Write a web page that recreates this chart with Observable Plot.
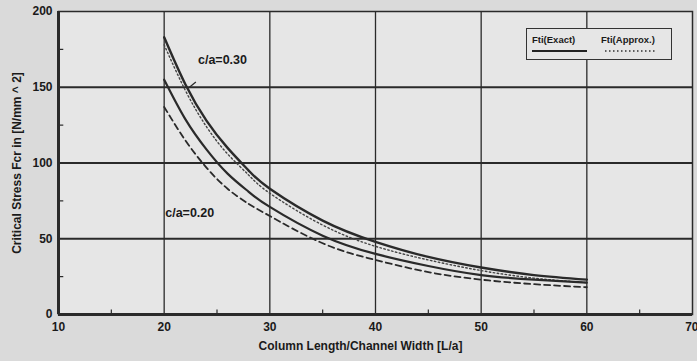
<!DOCTYPE html>
<html>
<head>
<meta charset="utf-8">
<script src="https://cdn.jsdelivr.net/npm/d3@7"></script>
<script src="https://cdn.jsdelivr.net/npm/@observablehq/plot@0.6"></script>
<style>
  html, body { margin: 0; padding: 0; background: #dadada; }
  #wrap { position: relative; width: 697px; height: 361px; overflow: hidden; }
  #legend {
    position: absolute; left: 526px; top: 28px; width: 144px; height: 30px;
    border: 1.5px solid #333; background: #e6e6e6;
    font-family: "Liberation Sans", Arial, sans-serif; font-weight: bold; font-size: 9.5px; color: #1a1a1a;
  }
  #legend .item { position: absolute; top: 5px; }
  #legend svg { position: absolute; left: 0; top: 0; }
</style>
</head>
<body>
<div id="wrap">
  <div id="chart"></div>
  <div id="legend">
    <span class="item" style="left:5px">Fti(Exact)</span>
    <span class="item" style="left:74px">Fti(Approx.)</span>
    <svg width="144" height="30">
      <line x1="5" x2="60" y1="22" y2="22" stroke="#222" stroke-width="2"/>
      <line x1="78" x2="130" y1="22" y2="22" stroke="#333" stroke-width="1.3" stroke-dasharray="1.5,2.5"/>
    </svg>
  </div>
</div>
<script>
// ---- data ----
const ratio = [20, 22, 24, 26, 28, 30, 35, 40, 45, 50, 55, 60];            // L/a
const exact030  = [183, 152, 128, 110, 95, 83, 62, 48, 38, 31, 26, 23];
const approx030 = [178, 148, 124, 106, 92, 80, 59, 45, 36, 29, 24, 21];
const exact020  = [155, 129, 109, 93, 81, 71, 52, 40, 32, 26, 23, 21];
const approx020 = [137, 115, 97, 83, 73, 65, 47, 36, 28, 23, 20, 18];

const xTicks = [10, 20, 30, 40, 50, 60];
const xLastTick = [70];
const yTicks = [0, 50, 100, 150, 200];
const xGrid = [20, 30, 40, 50, 60];
const yGrid = [50, 100, 150];
const xMinor = [15, 25, 35, 45, 55, 65];
const yMinor = [25, 75, 125, 175];
const xLabel = "Column Length/Channel Width [L/a]";
const yLabel = "Critical Stress Fcr in [N/mm ^ 2]";

const annotLabels = ["c/a=0.30", "c/a=0.20"];
const annotX = [23.2, 20.1];
const annotY = [168, 67];

const series = [
  {key: "exact030", values: exact030},
  {key: "approx030", values: approx030},
  {key: "exact020", values: exact020},
  {key: "approx020", values: approx020}
];
const rows = k => ratio.map((x, i) => ({x, y: series.find(s => s.key === k).values[i]}));
const annots = annotLabels.map((t, i) => ({t, x: annotX[i], y: annotY[i]}));

const ink = "#2a2a2a";
const chart = Plot.plot({
  width: 697,
  height: 361,
  marginLeft: 58,
  marginRight: 5,
  marginTop: 11,
  marginBottom: 47,
  style: {background: "transparent", fontFamily: "Liberation Sans, Arial, sans-serif", fontWeight: "bold", color: "#1a1a1a"},
  x: {domain: [10, 70]},
  y: {domain: [0, 200]},
  marks: [
    Plot.frame({fill: "#e6e6e6", stroke: null}),
    Plot.ruleX(xGrid, {stroke: ink, strokeWidth: 1.3}),
    Plot.ruleY(yGrid, {stroke: ink, strokeWidth: 2}),
    Plot.ruleX(xMinor, {y1: 0, y2: 3, stroke: ink, strokeWidth: 1.2}),
    Plot.ruleY(yMinor, {x1: 10, x2: 10.5, stroke: ink, strokeWidth: 1.2}),
    Plot.frame({stroke: ink, strokeWidth: 1.5}),
    Plot.ruleY([0], {stroke: ink, strokeWidth: 3}),
    Plot.ruleX([10], {stroke: ink, strokeWidth: 3}),
    Plot.line(rows("approx030"), {x: "x", y: "y", curve: "natural", stroke: "#444", strokeWidth: 1.4, strokeDasharray: "1.5,2.5"}),
    Plot.line(rows("exact030"), {x: "x", y: "y", curve: "natural", stroke: ink, strokeWidth: 2.4}),
    Plot.line(rows("exact020"), {x: "x", y: "y", curve: "natural", stroke: ink, strokeWidth: 2.2}),
    Plot.line(rows("approx020"), {x: "x", y: "y", curve: "natural", stroke: ink, strokeWidth: 1.8, strokeDasharray: "6,4"}),
    Plot.link([{x1: 23.0, y1: 153.5, x2: 22.3, y2: 149.5}], {x1: "x1", y1: "y1", x2: "x2", y2: "y2", stroke: ink, strokeWidth: 1.2}),
    Plot.text(annots, {x: "x", y: "y", text: "t", textAnchor: "start", fontSize: 12.5, fontWeight: "bold", fill: "#1a1a1a"}),
    Plot.axisX({ticks: xTicks, tickSize: 0, tickPadding: 8, fontSize: 12, fontWeight: "bold", label: null}),
    Plot.axisX({ticks: xLastTick, tickSize: 0, tickPadding: 8, fontSize: 12, fontWeight: "bold",
      textAnchor: "end", dx: 6, label: null}),
    Plot.text([xLabel], {text: d => d, frameAnchor: "bottom", dy: 35, dx: -15, fontSize: 12, fontWeight: "bold", fill: "#1a1a1a"}),
    Plot.axisY({ticks: yTicks, tickSize: 0, tickPadding: 6, fontSize: 12, fontWeight: "bold", label: null}),
    Plot.axisY({ticks: [], tickSize: 0, fontSize: 12, fontWeight: "bold", dy: -5,
      label: yLabel, labelAnchor: "center", labelOffset: 46, labelArrow: "none"})
  ]
});
document.getElementById("chart").appendChild(chart);
</script>
</body>
</html>
